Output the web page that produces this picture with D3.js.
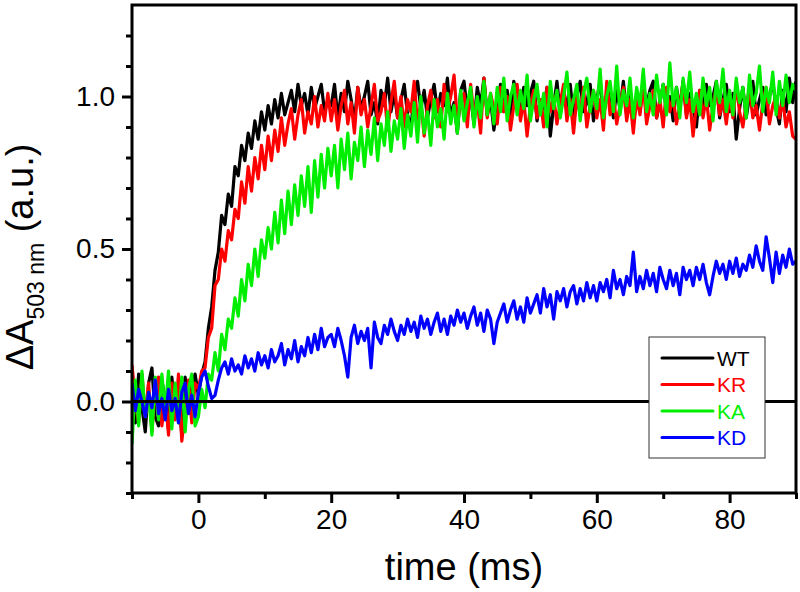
<!DOCTYPE html>
<html>
<head>
<meta charset="utf-8">
<script src="https://cdn.jsdelivr.net/npm/d3@7"></script>
<style>
  html, body { margin: 0; padding: 0; background: #fff; }
  svg { display: block; }
  text { font-family: "Liberation Sans", Arial, sans-serif; }
</style>
</head>
<body>
<svg id="chart" width="800" height="592"></svg>
<script>
// ---------- data ----------
const timeStart = -10;   // ms
const timeStep = 0.5;    // ms between samples

const seriesNames = ["WT", "KR", "KA", "KD"];
const seriesColors = ["#000000", "#ff0000", "#00ee00", "#0000ff"];

const wtValues = [
  0.05, -0.07, 0.09, -0.02, -0.10, 0.06, 0.11, -0.05, -0.08, 0.07, 0.00, -0.09, 0.08, -0.04, 0.03, -0.11, 0.08, -0.03, 0.05, 0.09,
  0.02, 0.09, 0.13, 0.24, 0.31, 0.43, 0.49, 0.61, 0.58, 0.68, 0.64, 0.77, 0.74, 0.84, 0.79, 0.88, 0.83, 0.92, 0.86, 0.95,
  0.89, 0.97, 0.91, 0.99, 0.93, 1.01, 0.94, 0.98, 1.02, 0.95, 1.04, 0.97, 1.01, 0.94, 1.03, 0.96, 1.00, 1.04, 0.95, 0.99,
  0.97, 1.04, 0.93, 1.01, 0.95, 1.05, 0.99, 0.92, 1.03, 0.96,
  1.00, 1.05, 0.94, 0.98, 0.91, 1.02, 0.97, 1.06, 0.95, 1.01,
  0.93, 0.99, 1.04, 0.94, 0.90, 1.00, 1.05, 0.96, 1.02, 0.93,
  0.99, 1.04, 0.95, 1.01, 0.97, 1.06, 0.93, 0.98, 0.88, 1.02,
  1.05, 0.95, 1.00, 0.91, 1.03, 0.97, 1.06, 0.94, 0.99, 0.89,
  0.97, 1.04, 0.95, 1.02, 0.93, 1.05, 0.98, 0.94, 1.03, 0.97,
  1.01, 1.05, 0.92, 0.99, 0.96, 1.03, 0.87, 0.97, 1.05, 0.94,
  1.02, 0.96, 1.04, 0.93, 1.00, 1.05, 0.95, 0.98, 1.04, 0.92,
  0.99, 1.05, 0.94, 1.00, 1.03, 0.93, 1.02, 0.96, 1.05, 0.94,
  1.01, 0.91, 0.99, 0.95, 1.04, 0.97, 1.02, 1.05, 0.93, 0.98,
  1.04, 0.95, 1.00, 0.92, 1.03, 0.96, 1.05, 0.94, 1.01, 0.97,
  0.90, 1.02, 0.95, 1.04, 0.97, 1.00, 1.05, 0.93, 0.99, 1.04,
  0.95, 1.01, 0.86, 0.96, 1.03, 0.93, 1.00, 1.05, 0.94, 0.99,
  1.03, 0.94, 1.00, 1.05, 0.96, 0.91, 1.02, 0.95, 1.06, 0.98,
  1.05
];

const krValues = [
  0.12, 0.00, -0.07, 0.09, -0.05, 0.06, -0.10, 0.04, 0.08, -0.08, 0.02, -0.11, 0.06, -0.06, 0.09, -0.13, -0.03, 0.07, -0.07, 0.06,
  0.04, 0.10, 0.11, 0.21, 0.24, 0.38, 0.40, 0.50, 0.46, 0.56, 0.53, 0.63, 0.60, 0.72, 0.65, 0.77, 0.69, 0.80, 0.73, 0.84,
  0.76, 0.87, 0.79, 0.89, 0.82, 0.93, 0.84, 0.91, 0.96, 0.86, 0.94, 0.99, 0.88, 0.95, 0.91, 1.00, 0.90, 0.97, 0.92, 1.01,
  0.92, 0.99, 0.89, 0.97, 1.02, 0.91, 0.98, 0.88, 1.03, 0.94,
  0.99, 0.90, 0.97, 1.04, 0.92, 0.95, 1.01, 0.89, 0.98, 1.05,
  0.93, 1.00, 0.90, 0.99, 0.95, 1.05, 0.91, 0.98, 0.87, 0.97,
  1.02, 0.93, 0.99, 0.90, 1.04, 0.95, 1.00, 1.07, 0.92, 0.97,
  1.01, 0.90, 1.04, 0.94, 0.99, 0.88, 1.06, 0.93, 1.01, 0.96,
  0.91, 1.03, 0.95, 1.00, 0.89, 0.97, 1.04, 0.92, 0.99, 0.87,
  0.97, 1.02, 0.93, 0.99, 0.90, 1.03, 0.95, 1.00, 0.91, 0.98,
  1.04, 0.92, 0.99, 0.88, 1.00, 0.94, 1.03, 0.90, 0.97, 1.02,
  0.93, 0.99, 0.89, 1.05, 0.94, 1.00, 0.91, 0.97, 1.03, 0.92,
  0.99, 0.88, 1.00, 0.94, 1.04, 0.91, 0.97, 1.02, 0.93, 0.99,
  0.90, 1.03, 0.95, 1.00, 0.91, 0.97, 1.05, 0.93, 0.99, 0.87,
  0.97, 1.02, 0.93, 1.00, 0.89, 0.97, 1.03, 0.94, 0.99, 0.91,
  1.00, 0.93, 1.04, 0.95, 0.90, 0.98, 1.02, 0.93, 0.97, 0.89,
  0.98, 1.03, 0.91, 0.97, 1.00, 0.93, 0.99, 0.90, 0.95, 0.87,
  0.86
];

const kaValues = [
  -0.14, 0.07, -0.08, 0.10, -0.05, 0.03, -0.11, 0.08, -0.06, 0.09, -0.03, 0.10, -0.09, 0.06, -0.07, 0.08, -0.10, 0.04, 0.09, -0.08,
  -0.05, 0.04, -0.02, 0.09, 0.07, 0.16, 0.10, 0.22, 0.17, 0.27, 0.24, 0.34, 0.28, 0.40, 0.33, 0.45, 0.38, 0.50, 0.41, 0.53,
  0.47, 0.57, 0.50, 0.62, 0.52, 0.66, 0.55, 0.69, 0.58, 0.71, 0.61, 0.74, 0.64, 0.77, 0.62, 0.79, 0.67, 0.81, 0.70, 0.83,
  0.74, 0.84, 0.70, 0.86, 0.76, 0.88, 0.73, 0.85, 0.79, 0.90,
  0.77, 0.89, 0.81, 0.93, 0.79, 0.91, 0.84, 0.95, 0.82, 0.92,
  0.86, 0.96, 0.83, 0.94, 0.87, 0.98, 0.85, 1.00, 0.88, 0.95,
  0.84, 0.99, 0.90, 0.96, 0.86, 1.01, 0.91, 0.97, 0.88, 1.02,
  0.92, 0.98, 1.03, 0.90, 1.00, 0.93, 1.05, 0.94, 1.01, 0.91,
  1.03, 0.95, 1.06, 0.92, 1.00, 1.04, 0.94, 1.02, 0.96, 1.07,
  0.92, 0.99, 1.04, 0.94, 1.01, 0.90, 1.05, 0.96, 1.02, 0.93,
  1.00, 1.08, 0.94, 0.99, 1.04, 0.92, 1.01, 1.06, 0.95, 1.02,
  0.96, 1.09, 0.93, 1.00, 1.05, 0.95, 1.10, 0.94, 1.02, 0.97,
  1.06, 0.93, 1.03, 0.97, 1.09, 0.95, 1.01, 0.94, 1.07, 0.98,
  1.04, 0.94, 1.11, 0.97, 1.03, 0.93, 1.06, 0.98, 1.08, 0.95,
  1.01, 0.94, 1.06, 0.97, 1.03, 0.92, 1.05, 0.98, 1.09, 0.95,
  1.02, 0.94, 1.06, 0.98, 1.03, 0.93, 1.07, 0.97, 1.01, 1.10,
  0.95, 1.03, 0.98, 1.08, 0.94, 1.05, 0.97, 1.07, 0.98, 1.04,
  1.02
];

const kdValues = [
  0.06, -0.03, 0.04, 0.00, -0.05, 0.03, -0.02, 0.07, -0.04, 0.01, -0.06, 0.04, -0.03, 0.01, -0.07, 0.03, 0.06, -0.04, 0.02, -0.05,
  0.03, 0.08, 0.10, 0.05, 0.01, 0.02, 0.07, 0.11, 0.13, 0.09, 0.14, 0.10, 0.12, 0.09, 0.15, 0.11, 0.14, 0.10, 0.16, 0.12,
  0.15, 0.11, 0.17, 0.13, 0.15, 0.19, 0.12, 0.17, 0.14, 0.20, 0.13, 0.18, 0.15, 0.21, 0.16, 0.22, 0.17, 0.24, 0.18, 0.21,
  0.22, 0.18, 0.24, 0.20, 0.15, 0.08, 0.21, 0.25, 0.19, 0.23,
  0.20, 0.24, 0.11, 0.26, 0.21, 0.19, 0.25, 0.22, 0.27, 0.23,
  0.20, 0.25, 0.22, 0.27, 0.23, 0.26, 0.21, 0.28, 0.24, 0.27,
  0.22, 0.26, 0.29, 0.23, 0.27, 0.22, 0.28, 0.25, 0.30, 0.26,
  0.29, 0.24, 0.28, 0.31, 0.25, 0.29, 0.23, 0.30, 0.27, 0.19,
  0.26, 0.29, 0.32, 0.26, 0.30, 0.33, 0.27, 0.31, 0.26, 0.34,
  0.29, 0.32, 0.35, 0.29, 0.37, 0.31, 0.35, 0.27, 0.36, 0.33,
  0.37, 0.31, 0.36, 0.38, 0.32, 0.37, 0.33, 0.39, 0.34, 0.38,
  0.33, 0.39, 0.36, 0.40, 0.34, 0.43, 0.37, 0.40, 0.35, 0.41,
  0.38, 0.49, 0.36, 0.41, 0.37, 0.43, 0.38, 0.42, 0.36, 0.44,
  0.40, 0.37, 0.43, 0.38, 0.42, 0.35, 0.44, 0.40, 0.43, 0.38,
  0.44, 0.40, 0.45, 0.39, 0.35, 0.41, 0.46, 0.42, 0.45, 0.40,
  0.46, 0.42, 0.47, 0.41, 0.45, 0.43, 0.48, 0.44, 0.51, 0.46,
  0.43, 0.54, 0.47, 0.39, 0.49, 0.42, 0.48, 0.44, 0.50, 0.45,
  0.46
];

const xMajorTicks = [0, 20, 40, 60, 80];
const xMinorTicks = [-10, 10, 30, 50, 70, 90];
const yMajorTicks = [0.0, 0.5, 1.0];
const yMinorTicks = [-0.3, -0.2, -0.1, 0.1, 0.2, 0.3, 0.4, 0.6, 0.7, 0.8, 0.9, 1.1, 1.2];
const xDomain = [-10, 90];
const yDomain = [-0.3, 1.3];

// ---------- layout ----------
const svg = d3.select("#chart");
const plotLeft = 132, plotRight = 796, plotTop = 5, plotBottom = 493;

const x = d3.scaleLinear().domain(xDomain).range([plotLeft, plotRight]);
const y = d3.scaleLinear().domain(yDomain).range([plotBottom, plotTop]);

svg.append("defs").append("clipPath").attr("id", "clip")
  .append("rect").attr("x", plotLeft).attr("y", plotTop)
  .attr("width", plotRight - plotLeft).attr("height", plotBottom - plotTop);

const allSeries = [wtValues, krValues, kaValues, kdValues].map((vals, k) => ({
  name: seriesNames[k],
  color: seriesColors[k],
  points: vals.map((v, i) => ({ t: timeStart + i * timeStep, v }))
}));

const line = d3.line().x(d => x(d.t)).y(d => y(d.v));

const plot = svg.append("g").attr("clip-path", "url(#clip)");
plot.selectAll("path.trace").data(allSeries).enter()
  .append("path").attr("class", "trace")
  .attr("d", d => line(d.points))
  .attr("fill", "none")
  .attr("stroke", d => d.color)
  .attr("stroke-width", 3.2)
  .attr("stroke-linejoin", "round");

// zero line
svg.append("line")
  .attr("x1", plotLeft).attr("x2", plotRight)
  .attr("y1", y(0)).attr("y2", y(0))
  .attr("stroke", "#000").attr("stroke-width", 3);

// ---------- axes ----------
function styleAxis(g) {
  g.select(".domain").remove();
  g.selectAll(".tick line").attr("stroke", "#000").attr("stroke-width", 3);
  g.selectAll(".tick text").attr("fill", "#000")
    .style("font-family", "'Liberation Sans', Arial, sans-serif")
    .style("font-size", "28px");
}

svg.append("g").attr("transform", `translate(0,${plotBottom})`)
  .call(d3.axisBottom(x).tickValues(xMajorTicks).tickFormat(d3.format("d")).tickSize(10).tickPadding(6))
  .call(styleAxis);
svg.append("g").attr("transform", `translate(0,${plotBottom})`)
  .call(d3.axisBottom(x).tickValues(xMinorTicks).tickFormat("").tickSize(6))
  .call(styleAxis);

svg.append("g").attr("transform", `translate(${plotLeft},0)`)
  .call(d3.axisLeft(y).tickValues(yMajorTicks).tickFormat(d3.format(".1f")).tickSize(10).tickPadding(7))
  .call(styleAxis);
svg.append("g").attr("transform", `translate(${plotLeft},0)`)
  .call(d3.axisLeft(y).tickValues(yMinorTicks).tickFormat("").tickSize(6))
  .call(styleAxis);

// frame
svg.append("rect")
  .attr("x", plotLeft).attr("y", plotTop)
  .attr("width", plotRight - plotLeft).attr("height", plotBottom - plotTop)
  .attr("fill", "none").attr("stroke", "#000").attr("stroke-width", 3);

// ---------- axis titles ----------
svg.append("text")
  .attr("x", (plotLeft + plotRight) / 2).attr("y", 580)
  .attr("text-anchor", "middle")
  .style("font-size", "38px")
  .text("time (ms)");

const yTitle = svg.append("text")
  .attr("transform", "translate(33,257) rotate(-90)")
  .attr("text-anchor", "middle")
  .style("font-size", "38px");
yTitle.append("tspan").text("\u0394A");
yTitle.append("tspan").attr("dy", 11).style("font-size", "23px").text("503 nm");
yTitle.append("tspan").attr("dy", -11).text(" (a.u.)");

// ---------- legend ----------
const lg = svg.append("g");
lg.append("rect")
  .attr("x", 649).attr("y", 337).attr("width", 116).attr("height", 121)
  .attr("fill", "#fff").attr("stroke", "#333").attr("stroke-width", 1);
const legendRows = lg.selectAll("g.row").data(allSeries).enter()
  .append("g").attr("class", "row")
  .attr("transform", (d, i) => `translate(0,${358 + i * 26.5})`);
legendRows.append("line")
  .attr("x1", 662).attr("x2", 713)
  .attr("stroke", d => d.color).attr("stroke-width", 3).attr("stroke-linecap", "round");
legendRows.append("text")
  .attr("x", 717).attr("y", 7.5)
  .attr("fill", d => d.color)
  .style("font-size", "21px")
  .text(d => d.name);
</script>
</body>
</html>
